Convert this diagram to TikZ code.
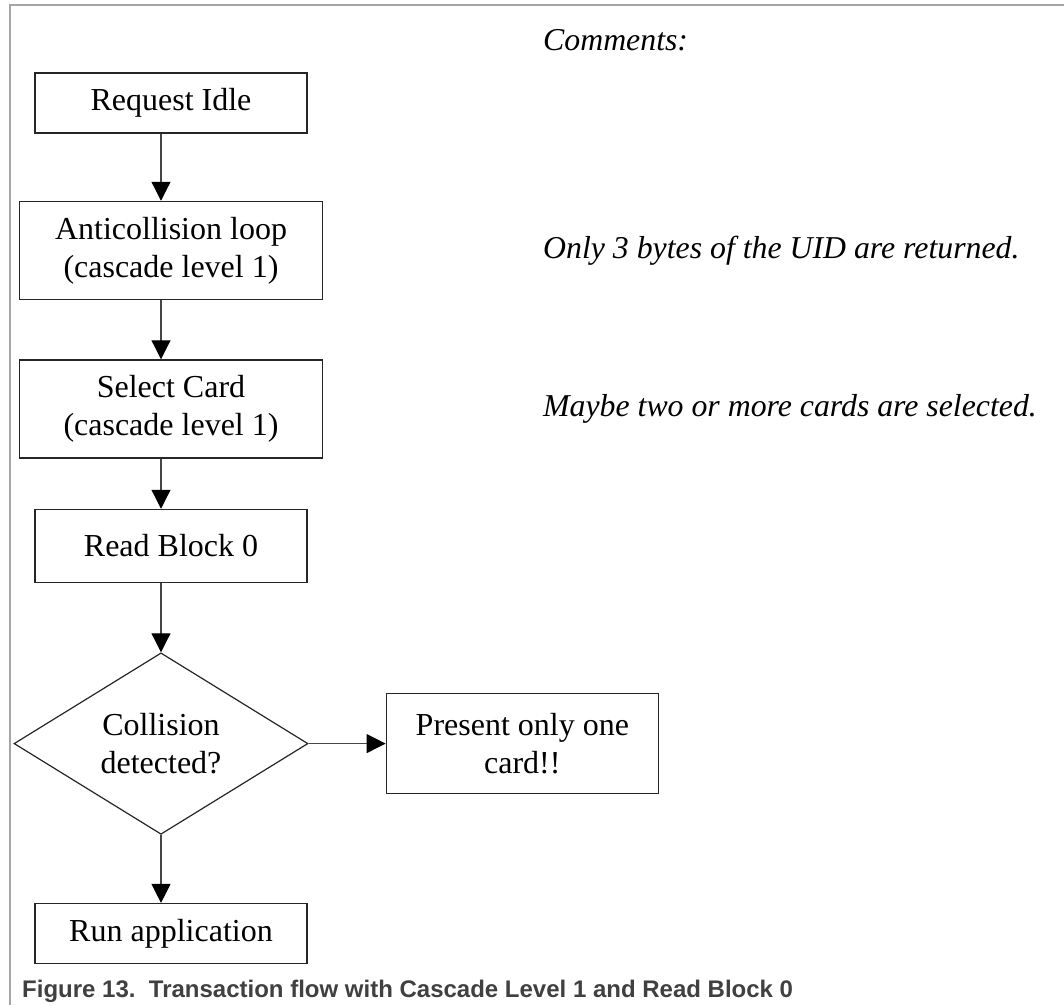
\documentclass[tikz,border=0pt]{standalone}
\usepackage{fontspec}
\setmainfont{Liberation Serif}
\newfontfamily\capfont{Liberation Sans}
\usetikzlibrary{shapes.geometric,arrows.meta,positioning}
\definecolor{framegray}{RGB}{165,165,165}
\definecolor{capgray}{RGB}{64,64,64}
\definecolor{linegray}{RGB}{70,70,70}

\begin{document}
\begin{tikzpicture}[
    x=1pt, y=1pt,
    node distance=60pt,
    >={Triangle[width=19pt,length=19pt,color=black]},
    box/.style={rectangle, draw=black!85, line width=1.5pt, fill=white,
                minimum width=272pt, minimum height=#1, inner sep=0pt,
                font=\fontsize{32}{38}\selectfont, align=center},
    decision/.style={diamond, draw=black!85, line width=1.2pt, fill=white,
                minimum width=294pt, minimum height=175pt, inner sep=0pt,
                font=\fontsize{32}{38}\selectfont, align=center},
    note/.style={inner sep=0pt, font=\itshape\fontsize{31.8}{36}\selectfont},
    arrow/.style={->, line width=1.2pt, draw=linegray}
]
\useasboundingbox (0,0) rectangle (1064,-1005);

% Frame
\draw[framegray, line width=1.5pt] (1064,-5) -- (10,-5) -- (10,-1005);

% Flow
\node[box=60pt] (idle) at (171,-103) {Request Idle};
\node[box=98pt, minimum width=303pt, below=67pt of idle] (anti) {Anticollision loop\\(cascade level 1)};
\node[box=98pt, minimum width=303pt, below=59pt of anti] (select) {Select Card\\(cascade level 1)};
\node[box=73pt, below=50pt of select] (read) {Read Block 0};
\node[decision, below=69pt of read, xshift=-10pt] (coll) {Collision\\detected?};
\node[box=100pt, right=77pt of coll] (present) {Present only one\\card!!};
\node[box=60pt, below=68pt of coll, xshift=10pt] (run) {Run application};

\draw[arrow] (idle.south -| coll) -- (anti.north -| coll);
\draw[arrow] (anti.south -| coll) -- (select.north -| coll);
\draw[arrow] (select.south -| coll) -- (read.north -| coll);
\draw[arrow] (read.south -| coll) -- (coll.north);
\draw[arrow] (coll.east) -- (present.west);
\draw[arrow] (coll.south) -- (run.north -| coll);

% Comments
\node[note, anchor=west] (head) at (543,-40) {Comments:};
\node[note, anchor=west] (noteuid) at (anti -| head.west) {Only 3 bytes of the UID are returned.};
\node[note, anchor=west] (notesel) at (select -| head.west) {Maybe two or more cards are selected.};

% Caption
\node[anchor=base west, inner sep=0pt, text=capgray,
      font=\capfont\bfseries\fontsize{24}{28}\selectfont] (caption) at (22,-997)
      {Figure 13.\ \ Transaction flow with Cascade Level 1 and Read Block 0};
\end{tikzpicture}
\end{document}
